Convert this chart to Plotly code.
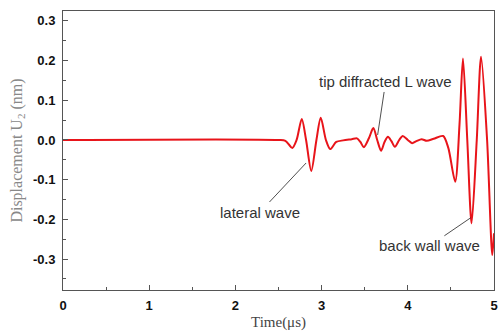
import plotly.graph_objects as go

time_us = [0, 2.5, 2.58, 2.66, 2.71, 2.77, 2.82, 2.88, 2.94, 2.99, 3.05, 3.10, 3.17, 3.25,
           3.35, 3.41, 3.45, 3.49, 3.55, 3.60, 3.645, 3.69, 3.73, 3.77, 3.81, 3.85, 3.90,
           3.94, 4.00, 4.05, 4.10, 4.16, 4.22, 4.30, 4.41, 4.47, 4.55, 4.60, 4.64, 4.69,
           4.74, 4.80, 4.85, 4.92, 4.98, 5.0]
disp_nm = [0, 0, -0.002, -0.02, 0.0, 0.053, 0.0, -0.078, 0.0, 0.056, 0.0, -0.023, -0.005, -0.001,
           0.002, 0.004, -0.005, -0.018, 0.005, 0.030, 0.0, -0.027, -0.005, 0.008, -0.003, -0.017, 0.0,
           0.010, 0.0, -0.008, -0.003, 0.002, -0.002, 0.003, 0.010, -0.02, -0.105, 0.04, 0.205, 0.0,
           -0.21, 0.0, 0.21, 0.0, -0.29, -0.235]

x_ticks = [0, 1, 2, 3, 4, 5]
y_ticks = [-0.3, -0.2, -0.1, 0.0, 0.1, 0.2, 0.3]
y_tick_text = ["-0.3", "-0.2", "-0.1", "0.0", "0.1", "0.2", "0.3"]

labels = ["tip diffracted L wave", "lateral wave", "back wall wave"]
label_x = [3.65, 2.82, 4.73]
label_y = [0.0126, -0.058, -0.196]
label_ax = [8, -46, -41]
label_ay = [-53, 49, 28]

fig = go.Figure()
fig.add_trace(go.Scatter(x=time_us, y=disp_nm, mode="lines",
                         line=dict(color="#e8141a", width=2, shape="spline", smoothing=0.8),
                         showlegend=False))

for t, xx, yy, ax, ay in zip(labels, label_x, label_y, label_ax, label_ay):
    fig.add_annotation(x=xx, y=yy, text=t, showarrow=True, arrowhead=0, arrowwidth=0.8,
                       arrowcolor="#222", ax=ax, ay=ay, standoff=0,
                       font=dict(family="Liberation Sans, Arial", size=15, color="#333"))

axis_common = dict(showline=True, linecolor="#555", linewidth=1, mirror=True, automargin=False,
                   ticks="inside", ticklen=5, tickcolor="#555", showgrid=False, zeroline=False,
                   tickfont=dict(family="Liberation Sans, Arial", size=13, color="#111", weight="bold"),
                   minor=dict(ticks="inside", ticklen=3, tickcolor="#555"))

fig.update_xaxes(range=[0, 5], tickvals=x_ticks, ticklabelstandoff=3, **axis_common,
                 title=dict(text="Time(μs)", font=dict(family="Liberation Serif, Times New Roman", size=15, color="#444"),
                            standoff=8))
fig.update_xaxes(minor=dict(dtick=0.5))
fig.update_yaxes(range=[-0.378, 0.325], tickvals=y_ticks, ticktext=y_tick_text, ticklabelstandoff=4, **axis_common,
                 title=dict(text="Displacement U<sub>2</sub> (nm)",
                            font=dict(family="Liberation Serif, Times New Roman", size=16, color="#888"),
                            standoff=6))
fig.update_yaxes(minor=dict(tickvals=[-0.35, -0.25, -0.15, -0.05, 0.05, 0.15, 0.25]))

fig.update_layout(width=498, height=331, margin=dict(l=63, r=4, t=11, b=41),
                  plot_bgcolor="white", paper_bgcolor="white")

fig.write_html("out.html")
